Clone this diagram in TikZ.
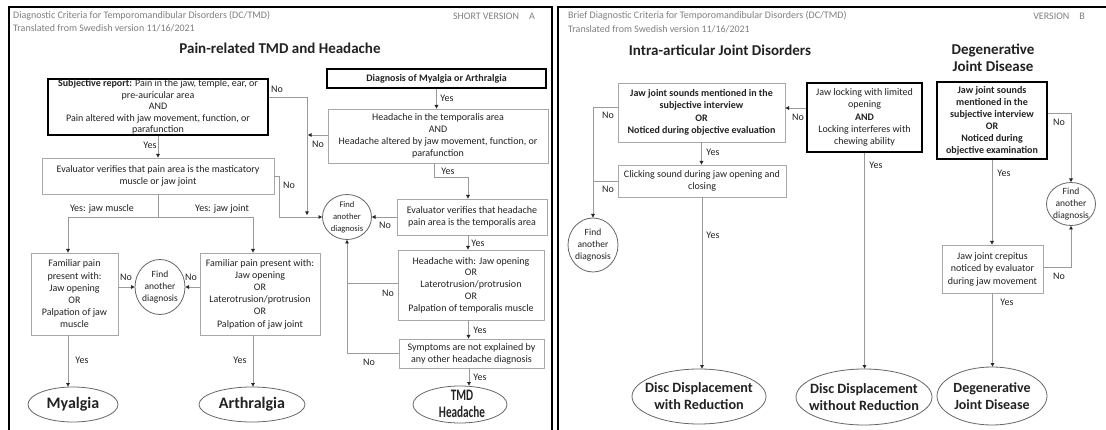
\documentclass[tikz,border=0pt]{standalone}
\usepackage{fontspec}
\setmainfont{Carlito}
\usetikzlibrary{arrows.meta,shapes.geometric}
\definecolor{ink}{HTML}{222222}
\definecolor{hdr}{HTML}{808080}
\definecolor{wire}{HTML}{9A9A9A}
\definecolor{rim}{HTML}{A8A8A8}
\newcommand{\squeeze}[1]{\scalebox{0.7}[1]{#1}}
\begin{document}
\begin{tikzpicture}[x=1pt,y=-1pt,
  every node/.style={text=ink},
  box/.style={draw=rim, line width=0.8pt, align=center, inner sep=0pt, fill=white,
    font=\fontsize{10}{12.2}\selectfont},
  keybox/.style={box, draw=black, line width=1.8pt},
  oval/.style={ellipse, draw=black!60, line width=0.8pt, inner sep=0pt},
  ovaltext/.style={align=center, inner sep=0pt, font=\fontsize{9.5}{12}\selectfont},
  goaltext/.style={align=center, inner sep=0pt, font=\bfseries\fontsize{14.2}{17}\selectfont},
  wire/.style={draw=wire, line width=0.8pt},
  arr/.style={wire, -{Triangle[length=3.6pt,width=3.6pt,color=black!85]}},
  tag/.style={font=\fontsize{10}{11}\selectfont, inner sep=0pt},
  hdrtext/.style={font=\fontsize{10}{11}\selectfont, text=hdr, anchor=west, inner sep=0pt},
  title/.style={font=\bfseries\fontsize{15}{17}\selectfont, align=center, inner sep=0pt},
  frame/.style={draw=black, line width=2pt}
]
\useasboundingbox (0,0) rectangle (1106,430);
\fill[white] (0,0) rectangle (1106,430);

% ---------------- panel frames ----------------
\draw[frame] (9,432) -- (9,7) -- (552,7) -- (552,432);
\draw[frame] (558,432) -- (558,7) -- (1110,7);

% ================= Pain-related TMD and Headache =================
\node[hdrtext] (hdrL1) at (13,16) {Diagnostic Criteria for Temporomandibular Disorders (DC/TMD)};
\node[hdrtext] (hdrL2) at (13,28) {Translated from Swedish version 11/16/2021};
\node[hdrtext, anchor=east] (verA) at (535,16) {SHORT VERSION\quad A};
\node[title] (ttlL) at (280,48) {Pain-related TMD and Headache};

\node[keybox, minimum width=220pt, minimum height=56pt, font=\fontsize{10}{11.6}\selectfont]
  (subj) at (158,107) {\textbf{Subjective report:} Pain in the jaw, temple, ear, or\\pre-auricular area\\AND\\Pain altered with jaw movement, function, or\\parafunction};
\node[box, minimum width=232pt, minimum height=36pt] (verif) at (158,176)
  {Evaluator verifies that pain area is the masticatory\\muscle or jaw joint};
\node[box, minimum width=87pt, minimum height=82pt] (musc) at (74.5,294)
  {Familiar pain\\present with:\\Jaw opening\\OR\\Palpation of jaw\\muscle};
\node[box, minimum width=120pt, minimum height=82pt] (joint) at (260,294)
  {Familiar pain present with:\\Jaw opening\\OR\\Laterotrusion/protrusion\\OR\\Palpation of jaw joint};
\node[oval, minimum width=50pt, minimum height=55pt] (findL) at (160,287) {};
\node[ovaltext] (findLt) at (findL.center) {Find\\another\\diagnosis};
\node[oval, minimum width=90pt, minimum height=35pt] (myal) at (73,404.5) {};
\node[goaltext, font=\bfseries\fontsize{16}{19}\selectfont] (myalt) at (myal.center) {Myalgia};
\node[oval, minimum width=106pt, minimum height=35pt] (arth) at (252,404.5) {};
\node[goaltext, font=\bfseries\fontsize{16}{19}\selectfont] (artht) at (arth.center) {Arthralgia};

\node[oval, minimum width=49pt, minimum height=45pt] (findM) at (347,217) {};
\node[ovaltext, font=\fontsize{8.6}{12}\selectfont] (findMt) at (findM.center) {Find\\another\\diagnosis};

\node[keybox, minimum width=219pt, minimum height=19pt, font=\bfseries\fontsize{10}{11}\selectfont]
  (diag) at (436.5,78.5) {Diagnosis of Myalgia or Arthralgia};
\node[box, minimum width=220pt, minimum height=54pt] (tempo) at (438,136)
  {Headache in the temporalis area\\AND\\Headache altered by jaw movement, function, or\\parafunction};
\node[box, minimum width=150pt, minimum height=36pt] (hverif) at (472,217)
  {Evaluator verifies that headache\\pain area is the temporalis area};
\node[box, minimum width=146pt, minimum height=70pt, font=\fontsize{10}{11.8}\selectfont] (hwith) at (471,285)
  {Headache with: Jaw opening\\OR\\Laterotrusion/protrusion\\OR\\Palpation of temporalis muscle};
\node[box, minimum width=145pt, minimum height=29pt] (hnot) at (471.5,353.5)
  {Symptoms are not explained by\\any other headache diagnosis};
\node[oval, minimum width=94pt, minimum height=37pt] (tmdh) at (460,404.5) {};
\node[goaltext, font=\bfseries\fontsize{16}{16.5}\selectfont] (tmdht) at (462,404) {\squeeze{TMD}\\\squeeze{Headache}};

% connectors
\coordinate (mergeA) at (307,215);
\coordinate (mergeB) at (308,135);
\coordinate (split) at (158,217);
\draw[arr] (subj.south) -- (verif.north);
\draw[arr] (subj.east |- 0,97) -| (mergeA);
\draw[arr] (verif.east) -- ++(5,0) |- (findM.west);
\draw[wire] (verif.south) -- (split);
\draw[arr] (split) -| ([xshift=-6.5pt]musc.north);
\draw[arr] (split) -| ([xshift=-7pt]joint.north);
\draw[arr] (musc.east |- findL) -- (findL.west);
\draw[arr] (joint.west |- findL) -- (findL.east);
\draw[arr] ([xshift=-6.5pt]musc.south) -- ([xshift=-6.5pt]musc.south |- myal.north);
\draw[arr] ([xshift=-7pt]joint.south) -- ([xshift=-7pt]joint.south |- arth.north);

\draw[arr] (diag.south) -- (diag.south |- tempo.north);
\draw[arr] (tempo.west |- mergeB) -- (mergeB);
\draw[arr] ([xshift=-4pt]tempo.south) -- ++(0,14) -| ([xshift=-4pt]hverif.north);
\draw[arr] (hverif.west) -- (findM.east);
\draw[arr] ([xshift=-4pt]hverif.south) -- ([xshift=-4pt]hverif.south |- hwith.north);
\draw[wire] ([yshift=2pt]hwith.west) -- ([yshift=2pt]hwith.west -| findM.south);
\draw[arr] (hnot.west) -- (hnot.west -| findM.south) -- (findM.south);
\draw[arr] ([xshift=-2.5pt]hwith.south) -- ([xshift=-2.5pt]hwith.south |- hnot.north);
\draw[arr] ([xshift=-2.5pt]hnot.south) -- ([xshift=-2.5pt]hnot.south |- tmdh.north);

% connector labels
\node[tag] (ysA) at (150,145) {Yes};
\node[tag] (noA) at (277,89) {No};
\node[tag] (noB) at (289,185) {No};
\node[tag] (ysJm) at (102,209) {Yes: jaw muscle};
\node[tag] (ysJj) at (222,209) {Yes: jaw joint};
\node[tag] (noC) at (126,277) {No};
\node[tag] (noD) at (191,277) {No};
\node[tag] (ysC) at (82,360) {Yes};
\node[tag] (ysD) at (240,360) {Yes};
\node[tag] (ysE) at (447,98) {Yes};
\node[tag] (noE) at (318,144) {No};
\node[tag] (ysF) at (448,171) {Yes};
\node[tag] (noF) at (385,225) {No};
\node[tag] (ysG) at (478,243) {Yes};
\node[tag] (noG) at (388,293) {No};
\node[tag] (ysH) at (480,330) {Yes};
\node[tag] (noH) at (369,362) {No};
\node[tag] (ysI) at (480,377) {Yes};

% ================= Intra-articular / Degenerative =================
\node[hdrtext] (hdrR1) at (568,16) {Brief Diagnostic Criteria for Temporomandibular Disorders (DC/TMD)};
\node[hdrtext] (hdrR2) at (568,29) {Translated from Swedish version 11/16/2021};
\node[hdrtext, anchor=east] (verB) at (1085,16) {VERSION\quad B};
\node[title] (ttlM) at (720,50) {Intra-articular Joint Disorders};
\node[title] (ttlR) at (993,58) {Degenerative\\Joint Disease};

\node[box, minimum width=167pt, minimum height=59pt, font=\bfseries\fontsize{10}{12.4}\selectfont] (sndA) at (701.5,112.5)
  {Jaw joint sounds mentioned in the\\subjective interview\\OR\\Noticed during objective evaluation};
\node[keybox, minimum width=115pt, minimum height=69pt, font=\fontsize{10}{12.4}\selectfont] (lockB) at (864.5,117.5)
  {Jaw locking with limited\\opening\\\textbf{AND}\\Locking interferes with\\chewing ability};
\node[keybox, minimum width=110pt, minimum height=77pt, font=\bfseries\fontsize{10}{12}\selectfont] (sndC) at (992,120.5)
  {Jaw joint sounds\\mentioned in the\\subjective interview\\OR\\Noticed during\\objective examination};
\node[box, minimum width=168pt, minimum height=32pt] (click) at (702,181)
  {Clicking sound during jaw opening and\\closing};
\node[oval, minimum width=50pt, minimum height=54pt] (findR1) at (593,245) {};
\node[ovaltext] (findR1t) at (findR1.center) {Find\\another\\diagnosis};
\node[oval, minimum width=49pt, minimum height=43pt] (findR2) at (1071,204) {};
\node[ovaltext] (findR2t) at (findR2.center) {Find\\another\\diagnosis};
\node[box, minimum width=101pt, minimum height=48pt, font=\fontsize{10}{12.5}\selectfont] (crep) at (992.5,269)
  {Jaw joint crepitus\\noticed by evaluator\\during jaw movement};
\node[oval, minimum width=134pt, minimum height=55pt] (ddr) at (699,396.5) {};
\node[goaltext] (ddrt) at (ddr.center) {Disc Displacement\\with Reduction};
\node[oval, minimum width=136pt, minimum height=56pt] (ddnr) at (864,397) {};
\node[goaltext] (ddnrt) at (ddnr.center) {Disc Displacement\\without Reduction};
\node[oval, minimum width=110pt, minimum height=58pt] (djd) at (992,396) {};
\node[goaltext, font=\bfseries\fontsize{14}{17}\selectfont] (djdt) at (djd.center) {Degenerative\\Joint Disease};

% connectors
\draw[arr] (sndA.west |- 0,107) -| (findR1.north);
\draw[wire] (click.west) -- (click.west -| findR1.north);
\draw[arr] (lockB.west |- 0,108) -- (sndA.east |- 0,108);
\draw[arr] (sndA.south) -- (sndA.south |- click.north);
\draw[arr] (click.south) -- (click.south |- ddr.north);
\draw[arr] (lockB.south) -- (lockB.south |- ddnr.north);
\draw[arr] (sndC.east |- 0,113) -| (findR2.north);
\draw[arr] (sndC.south) -- (sndC.south |- crep.north);
\draw[arr] (crep.east |- 0,267) -| (findR2.south);
\draw[arr] (crep.south) -- (crep.south |- djd.north);

% connector labels
\node[tag] (noR1) at (608,115) {No};
\node[tag] (noR2) at (608,189) {No};
\node[tag] (noR3) at (798,117) {No};
\node[tag] (ysR1) at (713,152) {Yes};
\node[tag] (ysR2) at (713,235) {Yes};
\node[tag] (ysR3) at (876,165) {Yes};
\node[tag] (noR4) at (1059,122) {No};
\node[tag] (ysR4) at (1004,173) {Yes};
\node[tag] (noR5) at (1059,276) {No};
\node[tag] (ysR5) at (1007,302) {Yes};
\end{tikzpicture}
\end{document}
